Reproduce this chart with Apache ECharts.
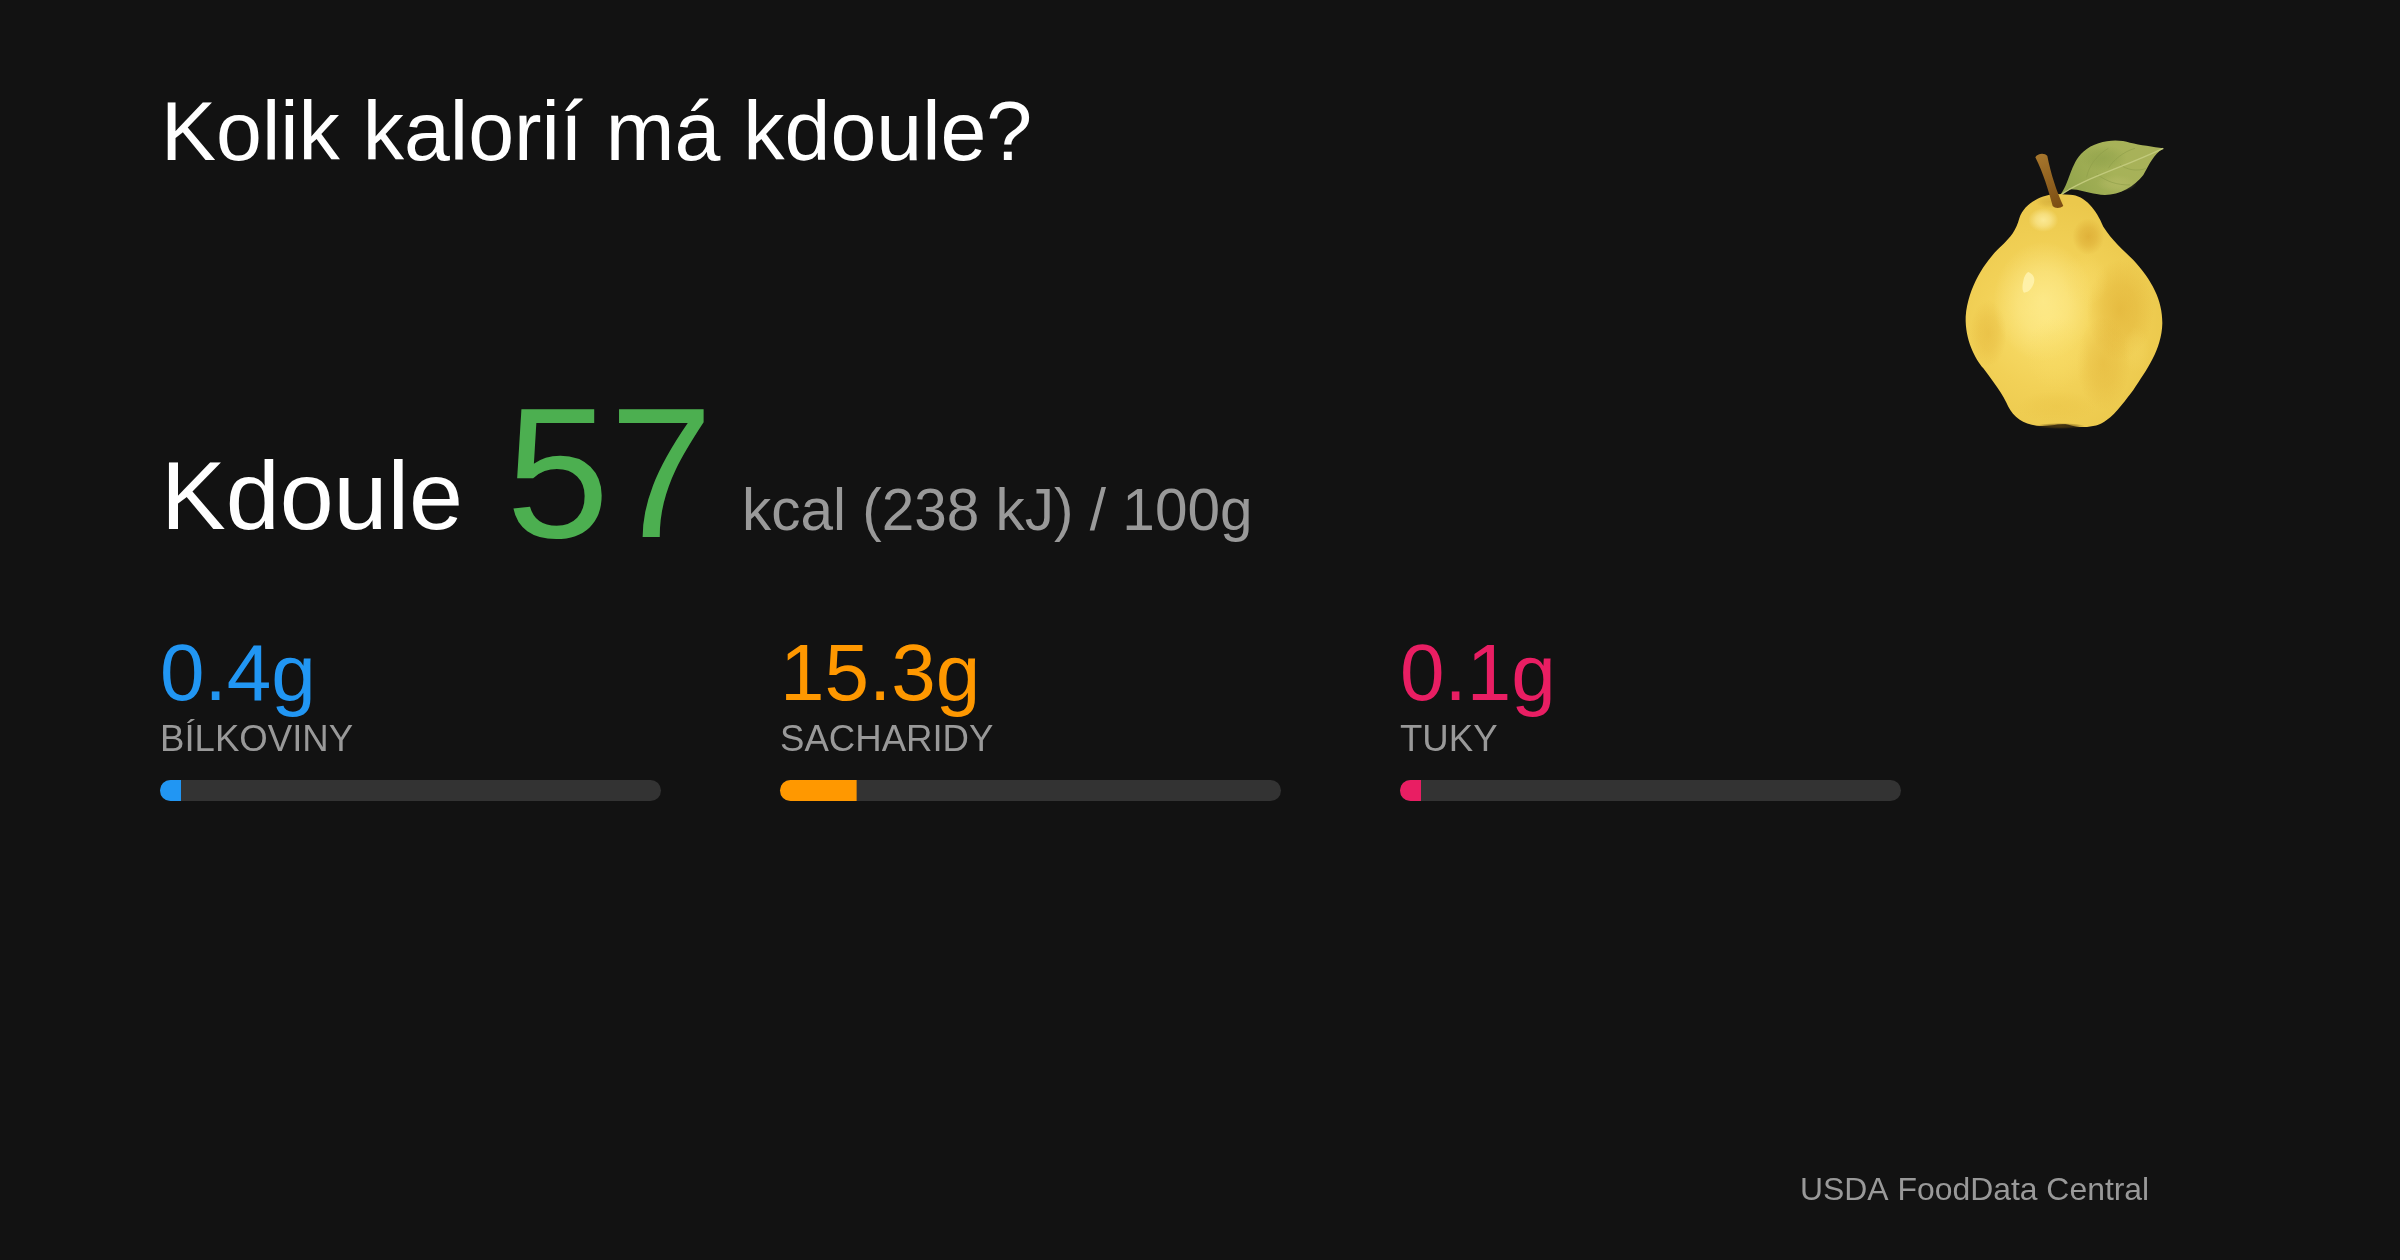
<!DOCTYPE html>
<html>
<head>
<meta charset="utf-8">
<title>Kolik kalorií má kdoule?</title>
<script src="https://cdn.jsdelivr.net/npm/echarts@6/dist/echarts.min.js"></script>
<style>
html, body { margin: 0; padding: 0; background: #121212; }
#chart { width: 2400px; height: 1260px; }
</style>
</head>
<body>
<div id="chart"></div>
<script>
const titleText = 'Kolik kalorií má kdoule?'
const foodName = 'Kdoule'
const kcal = 57
const kcalNote = 'kcal (238 kJ) / 100g'
const sourceText = 'USDA FoodData Central'
const nutrients = ['BÍLKOVINY', 'SACHARIDY', 'TUKY']
const grams = [0.4, 15.3, 0.1]
const colors = ['#2196F3', '#FF9800', '#E91E63']

const FONT = '"Liberation Sans", Arial, sans-serif'
const barLeft = [160, 780, 1400]

function label(x, y, text, size, fill) {
  return {
    type: 'text', x, y,
    style: { text, fontSize: size, fill, fontFamily: FONT, verticalAlign: 'bottom' }
  }
}

// kdoule, souřadnice 960 x 990 (zvětšený výřez), skupina se zmenší na 1/3
const bodyPath = 'M470 222C430 224 375 245 358 295C348 330 335 350 300 382C255 425 205 500 197 590C195 660 225 715 250 745C280 785 310 825 325 860C340 890 370 912 410 917C445 922 475 908 505 914C540 925 590 925 620 900C650 880 680 835 700 810C740 750 785 690 787 610C788 540 755 480 700 420C670 390 635 360 610 320C590 270 555 225 510 224Z'
const leafPath = 'M478 228C510 190 510 130 550 95C590 60 650 55 690 68C720 75 760 80 790 85C760 105 750 130 730 165C700 205 640 235 590 222C560 218 530 205 505 208Z'
const ribPath = 'M478 228C540 180 650 150 790 85'
const veinPath = 'M560 172C565 140 590 105 625 85M625 145C640 120 670 95 705 85M590 162C620 185 650 195 690 195M660 133C680 150 710 155 740 145'
const stemPath = 'M406 112C412 100 434 98 442 108C452 160 470 215 490 258C480 266 465 266 458 258C445 210 430 160 406 112Z'
const shinePath = 'M385 456C398 462 406 472 402 488C396 504 388 516 372 518C364 510 368 490 372 474C376 464 380 458 385 456Z'

const shapes = { quinceBody: bodyPath, quinceLeaf: leafPath, quinceRib: ribPath, quinceVein: veinPath, quinceStem: stemPath, quinceShine: shinePath }
Object.keys(shapes).forEach(k => echarts.graphic.registerShape(k, echarts.graphic.extendPath(shapes[k], {})))

const hexA = (hex, a) => `rgba(${parseInt(hex.slice(1, 3), 16)},${parseInt(hex.slice(3, 5), 16)},${parseInt(hex.slice(5, 7), 16)},${a})`

// měkká skvrna akvarelu: kruh roztažený přes měřítko, ať přechod drží tvar elipsy
function blotch(cx, cy, rx, ry, hex, op) {
  return {
    type: 'circle',
    x: cx, y: cy, scaleX: rx / 100, scaleY: ry / 100,
    shape: { cx: 0, cy: 0, r: 100 },
    style: {
      fill: {
        type: 'radial', x: 0.5, y: 0.5, r: 0.5,
        colorStops: [
          { offset: 0, color: hexA(hex, op) },
          { offset: 0.5, color: hexA(hex, op * 0.65) },
          { offset: 1, color: hexA(hex, 0) }
        ]
      }
    }
  }
}

const quince = {
  type: 'group',
  x: 1900, y: 120, scaleX: 1 / 3, scaleY: 1 / 3,
  children: [
    {
      type: 'quinceLeaf',
      style: {
        fill: {
          type: 'linear', x: 0, y: 1, x2: 1, y2: 0,
          colorStops: [
            { offset: 0, color: '#8fa24a' },
            { offset: 0.5, color: '#a6b258' },
            { offset: 1, color: '#aab25a' }
          ]
        }
      }
    },
    blotch(610, 115, 70, 40, '#8c9f48', 0.6),
    blotch(650, 190, 60, 26, '#b6bb66', 0.6),
    { type: 'quinceVein', style: { fill: 'none', stroke: '#8f9f4a', lineWidth: 2 } },
    { type: 'quinceRib', style: { fill: 'none', stroke: '#c2ca7c', lineWidth: 4 } },
    {
      type: 'quinceBody',
      style: {
        fill: {
          type: 'radial', x: 0.42, y: 0.55, r: 0.62,
          colorStops: [
            { offset: 0, color: '#fae06e' },
            { offset: 0.55, color: '#f2d157' },
            { offset: 1, color: '#ebc84c' }
          ]
        }
      }
    },
    blotch(660, 570, 100, 150, '#dba72c', 0.5),
    blotch(565, 350, 48, 55, '#d6a02a', 0.6),
    blotch(265, 640, 55, 100, '#dfae33', 0.42),
    blotch(610, 730, 80, 140, '#dba82e', 0.38),
    blotch(470, 860, 120, 48, '#e9c244', 0.4),
    blotch(450, 245, 45, 20, '#c9a030', 0.5),
    blotch(430, 545, 150, 180, '#ffef98', 0.65),
    blotch(555, 480, 70, 80, '#f8dd6c', 0.4),
    blotch(430, 300, 45, 36, '#fdeea0', 0.85),
    blotch(710, 690, 40, 70, '#f4d660', 0.4),
    blotch(470, 700, 95, 110, '#f8dc66', 0.4),
    blotch(480, 918, 75, 9, '#5a4210', 0.8),
    { type: 'quinceShine', style: { fill: '#fff3b0', opacity: 0.85 } },
    {
      type: 'quinceStem',
      style: {
        fill: {
          type: 'linear', x: 0, y: 0, x2: 1, y2: 1,
          colorStops: [
            { offset: 0, color: '#a8782e' },
            { offset: 1, color: '#7a4c12' }
          ]
        }
      }
    }
  ]
}

const grid = [], xAxis = [], yAxis = [], series = [], texts = []
nutrients.forEach((name, i) => {
  grid.push({ left: barLeft[i], top: 780, width: 501, height: 21 })
  xAxis.push({ type: 'value', gridIndex: i, min: 0, max: 100, show: false })
  yAxis.push({ type: 'category', gridIndex: i, data: [name], show: false })
  series.push({
    type: 'bar',
    xAxisIndex: i,
    yAxisIndex: i,
    data: [grams[i]],
    barWidth: 21,
    barMinHeight: 21,
    silent: true,
    animation: false,
    showBackground: true,
    backgroundStyle: { color: '#333333', borderRadius: 10.5 },
    itemStyle: { color: colors[i], borderRadius: [10.5, 0, 0, 10.5] }
  })
  texts.push(label(barLeft[i], 718, grams[i] + 'g', 80, colors[i]))
  texts.push(label(barLeft[i], 759, name, 36.6, '#999999'))
})

const chart = echarts.init(document.getElementById('chart'))
chart.setOption({
  backgroundColor: '#121212',
  animation: false,
  grid, xAxis, yAxis, series,
  graphic: [
    label(161, 179, titleText, 82.5, '#ffffff'),
    label(161, 551, foodName, 97, '#ffffff'),
    label(506, 579, String(kcal), 186, '#4CAF50'),
    label(742, 543, kcalNote, 58.5, '#999999'),
    label(1800, 1207, sourceText, 31.9, '#999999'),
    quince
  ].concat(texts)
})
</script>
</body>
</html>
